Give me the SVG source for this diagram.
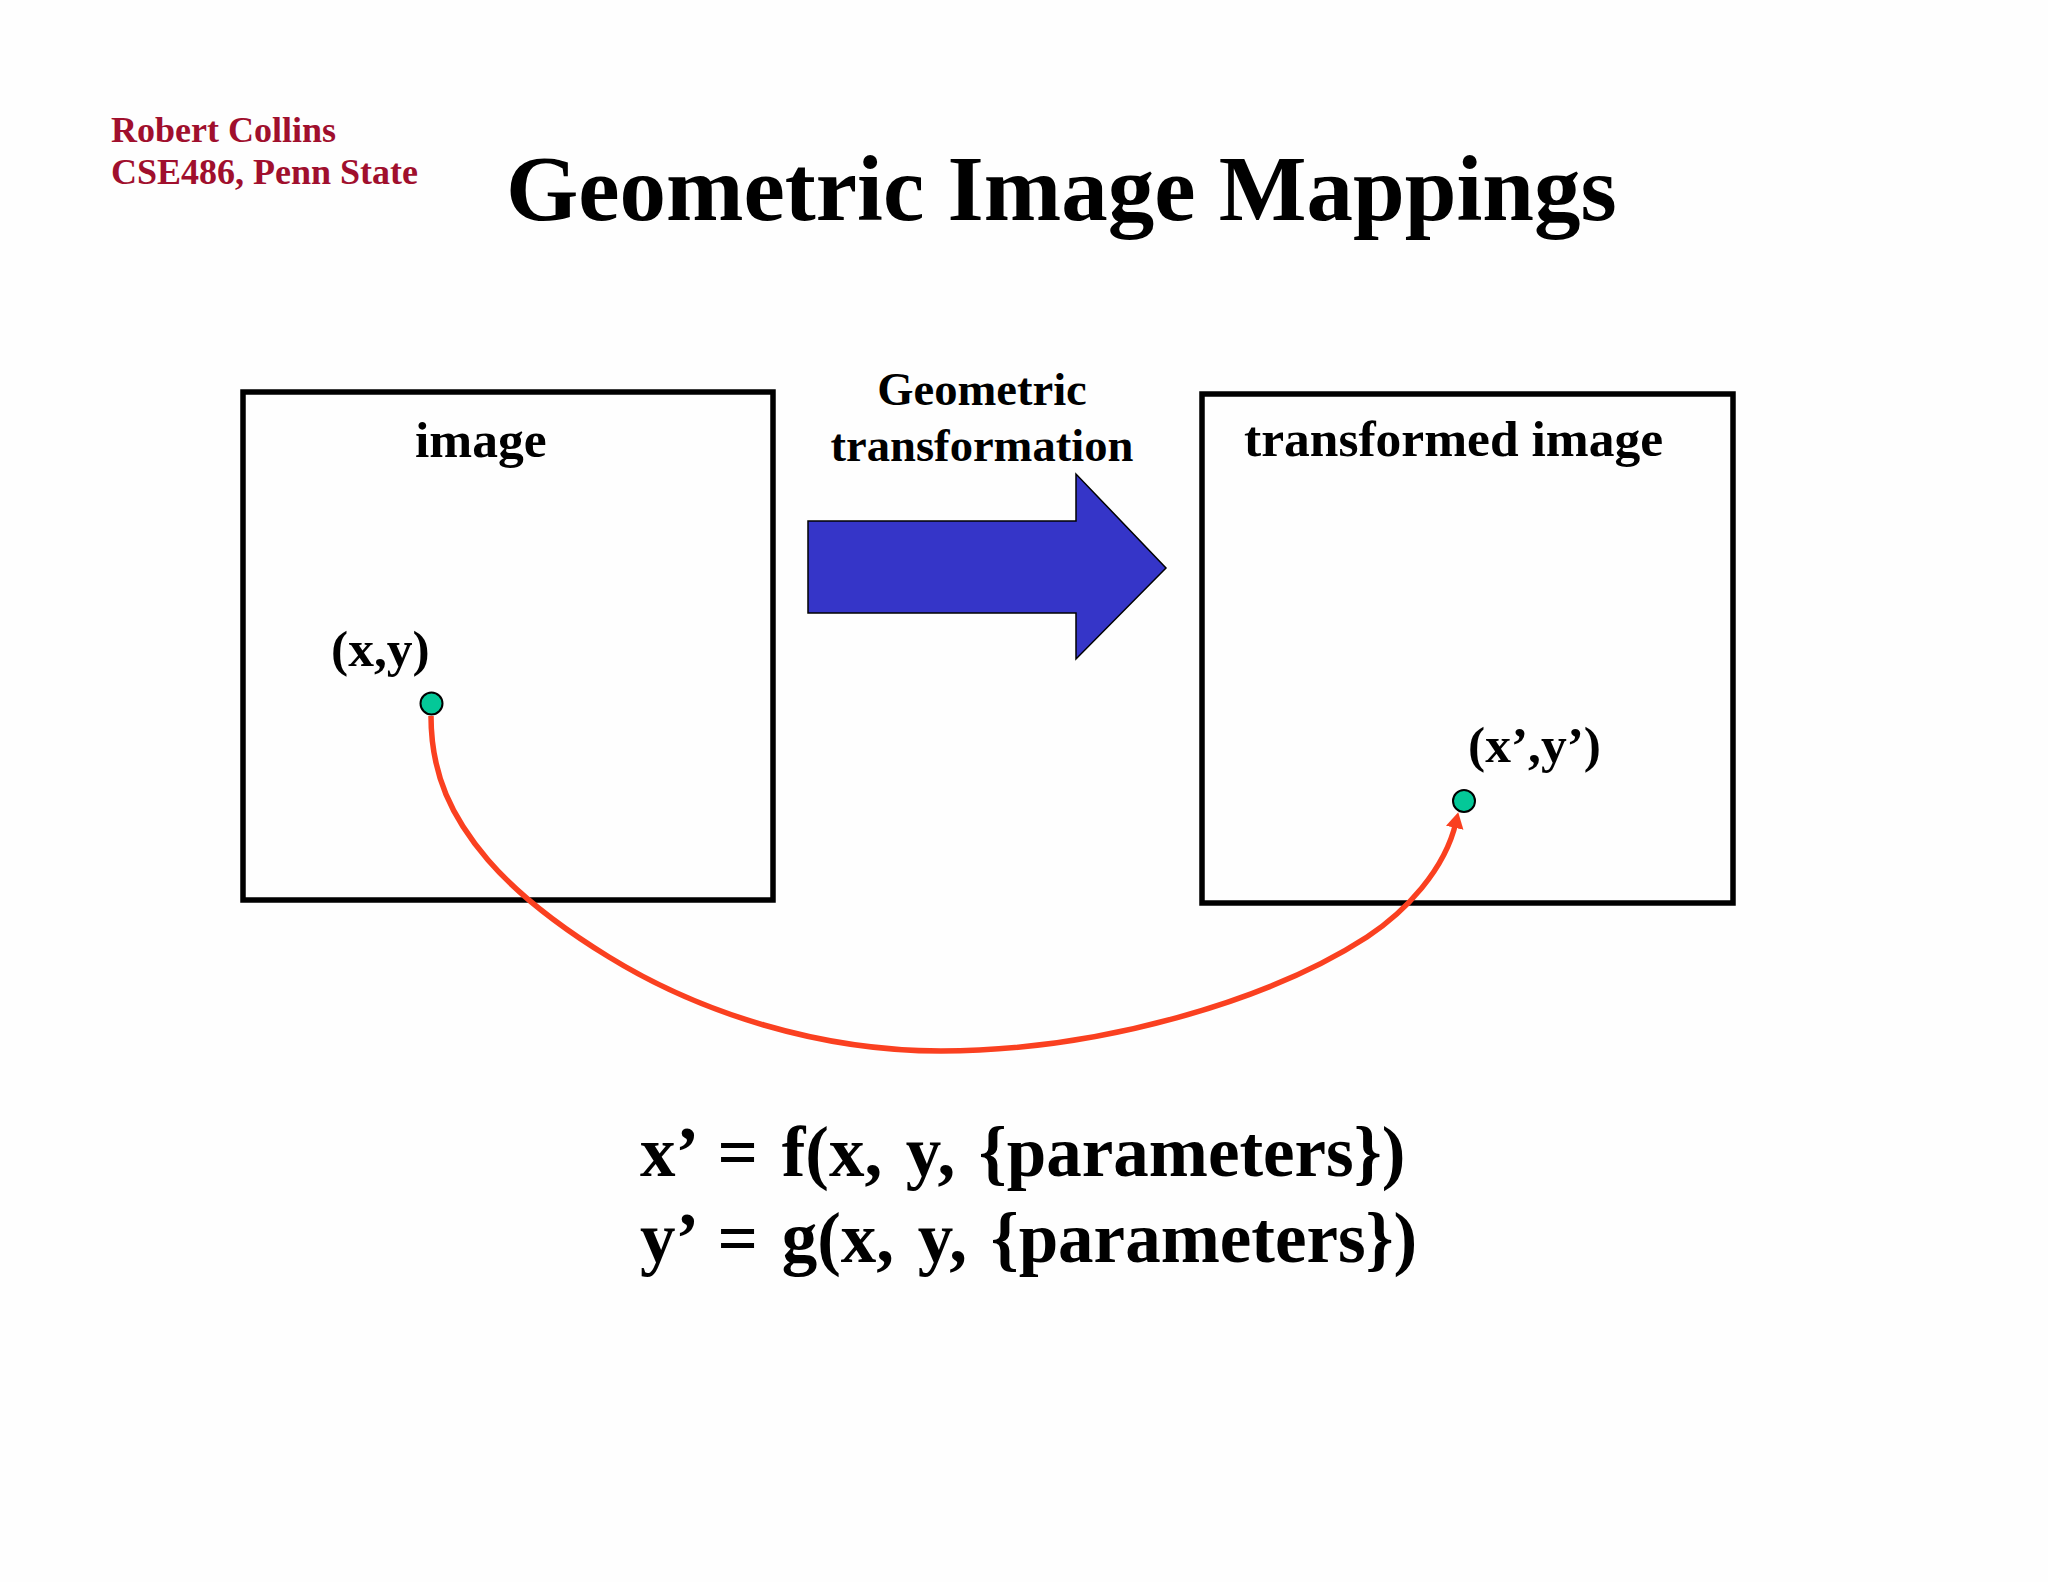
<svg xmlns="http://www.w3.org/2000/svg" width="2048" height="1582" viewBox="0 0 2048 1582">
<style>
text{font-family:"Liberation Serif","Times New Roman",serif;font-weight:bold;fill:#000}
.box{fill:none;stroke:#000;stroke-width:5.500}
.dot{fill:#04c898;stroke:#000;stroke-width:2}
.eq{font-size:71px;word-spacing:5.900px}
</style>
<defs><marker id="ah" markerUnits="userSpaceOnUse" markerWidth="20" markerHeight="20" refX="6" refY="9" orient="auto"><path d="M0 0L16 9L0 18Z" fill="#fa4020"/></marker></defs>
<rect width="2048" height="1582" fill="#fefefe"/>
<g id="credit"><text x="111" y="142" font-size="36" style="fill:#a00f2d">Robert Collins</text><text x="111" y="184" font-size="36" style="fill:#a00f2d">CSE486, Penn State</text></g>
<text id="title" x="506" y="220" font-size="93">Geometric Image Mappings</text>
<g id="image"><rect class="box" x="243" y="392" width="530" height="508"/><text x="415" y="457" font-size="51.500">image</text></g>
<g id="transformed"><rect class="box" x="1202" y="394" width="531" height="509"/><text x="1244" y="456" font-size="51.500">transformed image</text></g>
<g id="arrow"><path d="M808 521H1076V474L1166 568L1076 659V613H808Z" fill="#3535c8" stroke="#000" stroke-width="1.500"/><text x="982" y="405" font-size="46.600" text-anchor="middle">Geometric</text><text x="982" y="461" font-size="46.600" text-anchor="middle">transformation</text></g>
<g id="p1"><text x="331" y="666" font-size="51.500">(x,y)</text><circle class="dot" cx="431.500" cy="703.500" r="11"/></g>
<g id="p2"><text x="1468" y="762" font-size="51.500">(x’,y’)</text><circle class="dot" cx="1464" cy="801" r="11"/></g>
<g id="connectors"><path d="M431 716C431 775 452 818 488 860C520 897 565 930 609 957C700 1013 820 1051 941 1051C1100 1051 1270 1000 1367 937C1405 912 1445 870 1456 822" fill="none" stroke="#fa4020" stroke-width="5.500" marker-end="url(#ah)"/></g>
<g id="equations"><text class="eq" x="640" y="1176">x’ = f(x, y, {parameters})</text><text class="eq" x="640" y="1262">y’ = g(x, y, {parameters})</text></g>
</svg>
